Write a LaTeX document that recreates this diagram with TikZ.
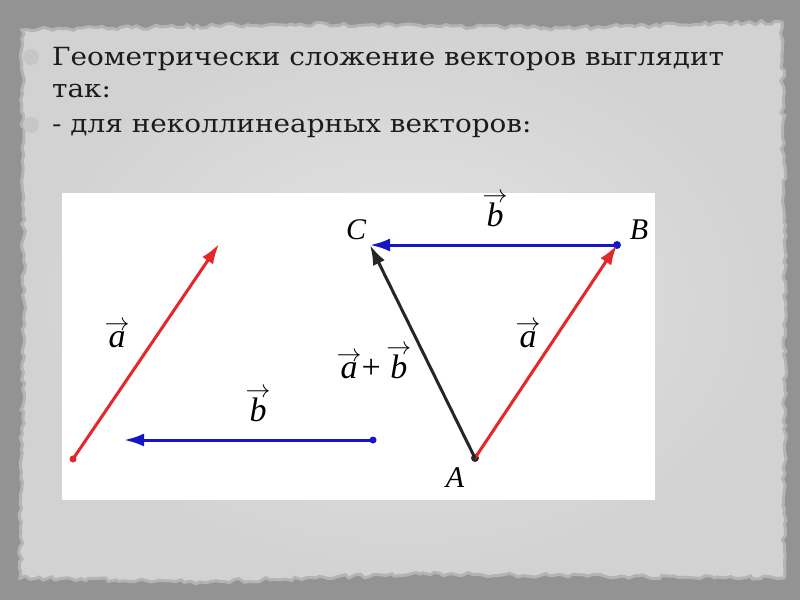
\documentclass[tikz,border=0pt]{standalone}
\usepackage{graphicx}
\usepackage{fontspec}
\setmainfont{Liberation Serif}
\newfontfamily\slidefont{DejaVu Serif}
\usepackage{tikz}
\usetikzlibrary{arrows.meta,positioning,calc,decorations.pathmorphing}

\definecolor{slate}{HTML}{939393}
\definecolor{paperin}{HTML}{E4E4E4}
\definecolor{paperout}{HTML}{D2D2D2}
\definecolor{paperrim}{HTML}{B4B4B4}
\definecolor{dotgray}{HTML}{C6C6C6}
\definecolor{inkgray}{HTML}{1C1C1C}
\definecolor{vecred}{HTML}{E5262B}
\definecolor{vecblue}{HTML}{1616C4}
\definecolor{vecblack}{HTML}{262626}
\definecolor{ptbrown}{HTML}{3A2424}

% letter with an arrow set well above it
\newcommand{\arrlet}[1]{\shortstack{{\fontsize{24}{24}\selectfont$\rightarrow$}\\[-2pt]\textit{#1}}}
% slide text, a little wider
\newcommand{\wide}[1]{\scalebox{1.115}[1]{#1}}

\tikzset{
  vec/.style={line width=3pt,-{Latex[length=20pt,width=13pt]}},
  pt/.style={circle,fill,inner sep=0pt,minimum size=8pt},
  lbl/.style={font=\fontsize{34}{34}\selectfont,inner sep=0pt},
  txtline/.style={anchor=base west,inner sep=0pt,text=inkgray,
    font=\slidefont\fontsize{25}{25}\selectfont},
  bullet/.style={circle,fill=dotgray,inner sep=0pt,minimum size=16pt},
}

\begin{document}
\begin{tikzpicture}[x=1pt,y=-1pt]
      \pgfmathsetseed{7}
      \fill[slate] (0,0) rectangle (800,600);
      \useasboundingbox (0,0) rectangle (800,600);

      % torn paper
      \draw[paperrim,line width=3pt,inner color=paperin,outer color=paperout,
        decorate,decoration={random steps,segment length=5pt,amplitude=2pt}]
        (22,30) -- (300,24) -- (560,28) -- (782,22) -- (785,300)
        -- (784,578) -- (420,574) -- (200,582) -- (20,578) -- (24,300) -- cycle;

      \node[bullet](bul1) at (31,57){};
      \node[bullet](bul2) at (31,125){};

      \node[txtline](line1) at (52,65){\wide{Геометрически сложение векторов выглядит}};
      \node[txtline](line2) at (52,97){\wide{так:}};
      \node[txtline](line3) at (52,132){\wide{- для неколлинеарных векторов:}};

      % picture
      \fill[white] (62,193) rectangle (655,500);

      % left: the two vectors apart
      \node[pt,fill=vecred,minimum size=7pt](a0) at (73,459){};
      \coordinate(a1) at (219,244);
      \node[pt,fill=vecblue,minimum size=7pt](b0) at (373,440){};
      \coordinate(b1) at (124,440);
      \draw[vec,vecred] (a0.center) -- (a1);
      \draw[vec,vecblue] (b0.center) -- (b1);
      \node[lbl](la1) at (117,335){\arrlet{a}};
      \node[lbl](lb1) at (258,405){\arrlet{b}};

      % right: triangle rule
      \node[pt,fill=ptbrown](A) at (475,458){};
      \node[pt,fill=vecblue](B) at (617,245){};
      \coordinate(C) at (370,245);
      \draw[vec,vecred] (A.center) -- (B.center);
      \draw[vec,vecblue] (B.center) -- (C);
      \draw[vec,vecblack] (A.center) -- (C);

      \node[lbl,font=\fontsize{30}{30}\selectfont\itshape](nA) at (455,478){A};
      \node[lbl,font=\fontsize{30}{30}\selectfont\itshape](nB) at (639,230){B};
      \node[lbl,font=\fontsize{30}{30}\selectfont\itshape](nC) at (356,230){C};
      \node[lbl](lb2) at (495,210){\arrlet{b}};
      \node[lbl](la2) at (528,335){\arrlet{a}};
      \node[lbl](lab) at (374,362){\arrlet{a}{\upshape+}\,\arrlet{b}};
\end{tikzpicture}
\end{document}
